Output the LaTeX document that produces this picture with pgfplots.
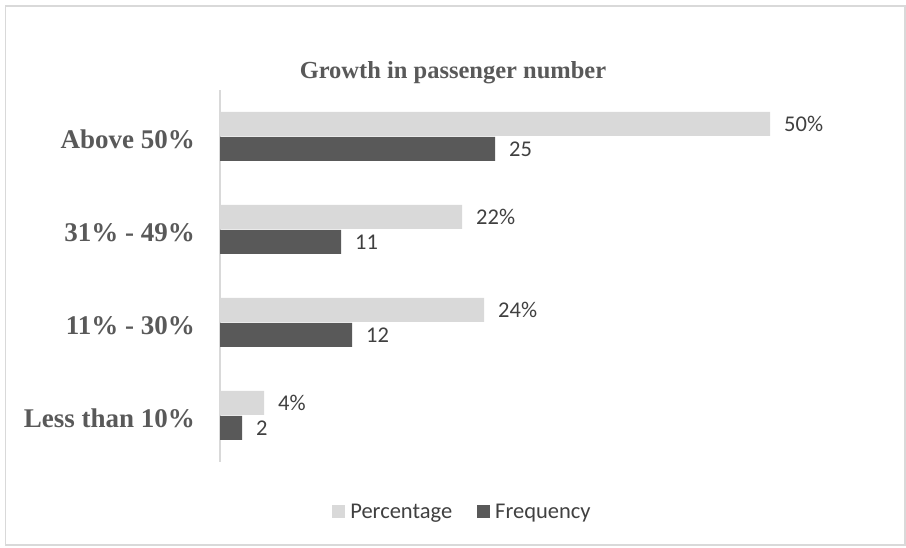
\documentclass[border=0pt]{standalone}
\usepackage{pgfplots}
\pgfplotsset{compat=1.18}
\usepackage{fontspec}
\setmainfont{Liberation Serif}
\newfontfamily\calibri{Carlito}
\definecolor{lightbar}{HTML}{D9D9D9}
\definecolor{darkbar}{HTML}{595959}
\definecolor{labelgray}{HTML}{595959}
\definecolor{datagray}{HTML}{404040}
\begin{document}
\begin{tikzpicture}[x=1bp,y=1bp]
\useasboundingbox (0,0) rectangle (906,548);
\draw[lightbar, line width=1.2bp] (5.5,3) rectangle (905,542);
\node[font=\fontsize{24.5bp}{28bp}\selectfont\bfseries, text=labelgray] at (453,475) {Growth in passenger number};
\begin{axis}[
  at={(220bp,86bp)}, anchor=south west,
  scale only axis,
  width=650bp, height=372bp,
  xmin=0, xmax=59.09,
  ymin=-0.5, ymax=3.5,
  axis x line=none,
  axis y line*=left,
  y axis line style={draw=lightbar, line width=1.2bp, -},
  ytick={0,1,2,3},
  yticklabels={Less than 10\%, 11\% - 30\%, 31\% - 49\%, Above 50\%},
  major tick length=0pt,
  yticklabel style={font=\fontsize{27bp}{30bp}\selectfont\bfseries, text=labelgray, inner sep=0pt, anchor=east, xshift=-25bp, yshift=-3bp},
  /pgf/number format/assume math mode=true,
  xbar, bar width=24bp,
  nodes near coords,
  every node near coord/.append style={font=\calibri\fontsize{22.5bp}{25bp}\selectfont, text=datagray, anchor=west, inner sep=0pt, xshift=14bp},
  legend columns=2,
  legend style={at={(0.3715,-0.134)}, anchor=center, draw=none, fill=none,
    font=\calibri\fontsize{22.5bp}{25bp}\selectfont, text=datagray,
    nodes={inner sep=0pt},
    /tikz/every odd column/.append style={column sep=5bp},
    /tikz/every even column/.append style={column sep=25bp}},
  legend image code/.code={\fill[#1] (0bp,-6.5bp) rectangle (13bp,6.5bp);},
  clip=false,
]
\addplot[fill=lightbar, draw=none, bar shift=12.5bp,
  nodes near coords={\pgfmathprintnumber{\pgfplotspointmeta}\%}]
  coordinates {(4,0) (24,1) (22,2) (50,3)};
\addplot[fill=darkbar, draw=none, bar shift=-12.5bp]
  coordinates {(2,0) (12,1) (11,2) (25,3)};
\legend{Percentage, Frequency}
\end{axis}
\end{tikzpicture}
\end{document}
